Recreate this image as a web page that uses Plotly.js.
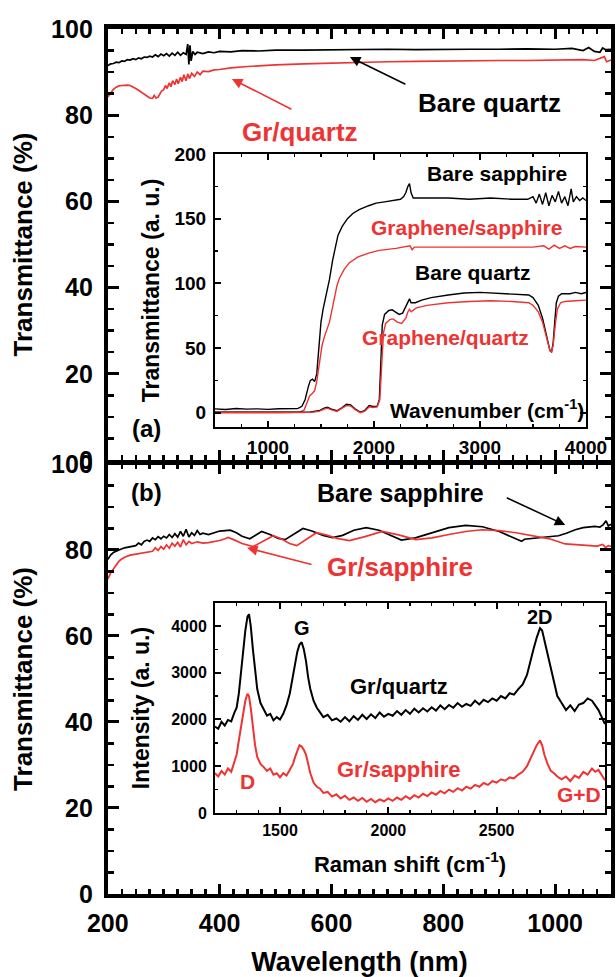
<!DOCTYPE html>
<html><head><meta charset="utf-8">
<script src="https://cdn.plot.ly/plotly-3.0.1.min.js"></script>
<style>html,body{margin:0;padding:0;background:#fff}#chart{width:616px;height:977px}</style>
</head><body><div id="chart"></div>
<script>
// ---------- Panel (a): quartz UV-vis transmittance ----------
const wlBareQuartz = [200,205,210,215,220,225,230,235,240,245,250,255,260,265,270,275,280,285,290,295,300,305,310,315,320,325,330,335,340,343,345,347,349,352,356,360,370,380,390,400,420,440,470,500,550,600,650,700,750,800,850,900,950,1000,1030,1050,1060,1070,1080,1085,1090,1100];
const tBareQuartz = [91.5,91.9,92.0,92.3,92.2,92.6,92.5,92.9,92.8,93.1,92.9,93.3,93.1,93.5,93.4,93.7,93.5,94.0,93.6,94.2,93.8,94.3,93.7,94.4,93.9,94.6,93.9,94.5,94.1,96.5,91.8,96.2,92.6,94.8,94.1,94.6,94.3,94.7,94.5,94.8,94.7,95.0,94.9,95.1,95.1,95.2,95.2,95.3,95.2,95.3,95.3,95.3,95.4,95.3,95.5,95.0,95.7,94.8,94.6,95.6,95.2,95.3];
const wlGrQuartz = [200,205,210,215,220,225,230,235,240,245,250,255,260,265,270,275,280,283,286,290,293,296,300,303,306,310,313,316,320,323,326,330,333,336,340,343,346,350,355,360,365,370,380,390,400,420,450,500,550,600,650,700,750,800,850,900,950,1000,1050,1070,1080,1088,1092,1100];
const tGrQuartz = [84.2,85.2,86.0,86.5,86.8,86.9,87.0,87.0,86.9,86.6,86.2,85.8,85.3,84.8,84.3,84.0,83.9,84.6,84.0,84.2,84.9,85.6,85.9,86.9,86.2,87.5,86.6,88.0,87.1,88.4,87.3,88.8,87.8,89.4,88.0,89.6,88.5,89.7,89.0,90.0,89.4,90.2,90.1,90.5,90.6,91.0,91.3,91.7,91.9,92.1,92.2,92.4,92.5,92.6,92.6,92.7,92.7,92.8,92.9,92.7,93.2,93.6,92.4,92.8];

// ---------- Panel (b): sapphire UV-vis transmittance ----------
const wlBareSapphire = [200,205,210,215,220,230,240,250,255,260,265,270,275,280,285,290,295,300,305,310,315,320,325,330,335,340,345,350,355,360,365,370,380,390,400,410,419,430,440,454,465,475,490,505,517,530,549,565,585,602,620,640,662,685,705,725,750,780,810,840,870,900,920,935,940,945,960,980,1006,1020,1036,1050,1060,1071,1080,1086,1091,1095,1100];
const tBareSapphire = [77.8,78.8,79.4,79.8,80.0,80.5,80.8,81.0,81.6,81.2,82.0,82.3,82.0,82.8,82.4,83.1,82.6,83.2,82.8,83.6,82.9,83.8,83.0,84.3,83.2,84.8,83.0,84.0,83.4,84.5,83.6,83.9,83.6,84.0,84.4,84.5,84.6,84.0,83.2,82.6,83.5,84.3,83.6,82.7,82.4,83.4,85.0,84.4,83.4,82.9,83.4,84.6,85.2,84.6,83.4,82.3,82.8,84.0,85.2,85.7,85.4,84.3,83.2,82.4,82.0,82.5,82.7,82.9,83.3,83.9,84.7,85.2,85.4,85.5,85.3,85.9,86.8,85.6,86.0];
const wlGrSapphire = [200,203,206,210,215,220,225,230,240,250,260,270,280,285,290,295,300,305,310,315,320,325,330,335,340,345,350,360,370,380,390,400,410,415,425,440,460,475,496,510,525,538,555,573,590,610,632,660,691,720,751,780,810,840,869,900,930,958,990,1018,1040,1060,1075,1085,1090,1095,1100];
const tGrSapphire = [73.2,74.2,74.9,75.6,76.6,77.4,77.9,78.3,78.8,79.0,79.3,79.4,79.7,80.5,79.9,80.8,80.2,81.2,80.4,81.6,80.9,81.8,80.7,82.4,81.2,82.0,81.5,81.9,81.6,81.7,81.9,82.2,82.6,82.9,82.4,81.5,80.8,81.8,83.3,82.6,81.5,81.0,82.5,84.0,83.5,82.7,82.2,83.1,84.3,83.5,82.4,82.8,83.6,84.3,84.7,84.5,84.0,83.4,82.6,81.4,81.2,81.1,80.9,81.3,80.6,81.0,80.8];

// ---------- Inset (a): IR transmittance vs wavenumber ----------
const wnBareSapphire = [500,600,700,800,900,1000,1100,1200,1280,1320,1350,1380,1400,1420,1440,1460,1480,1500,1520,1550,1580,1610,1640,1660,1700,1750,1800,1860,1950,2020,2100,2170,2250,2280,2300,2320,2335,2350,2370,2500,2700,2900,3100,3300,3450,3500,3530,3560,3590,3620,3650,3680,3710,3740,3770,3800,3830,3860,3880,3910,3940,3970,4000];
const irBareSapphire = [3.0,2.5,3.2,2.8,3.0,2.6,3.1,2.9,3.2,5,10,20,25,26,24,30,50,70,80,92,103,118,131,137,144,150,154,157,160,162,163,164,165,167,170,175,177,170,166,166,166,165,166,165,165,167,162,169,161,170,160,168,163,171,162,167,160,173,163,167,164,166,164];
const wnGrSapphire = [500,700,900,1100,1300,1340,1370,1392,1420,1440,1460,1486,1510,1533,1560,1580,1600,1627,1650,1674,1720,1768,1850,1956,2050,2207,2300,2340,2360,2380,2600,2900,3200,3500,3600,3650,3700,3750,3800,3850,3900,4000];
const irGrSapphire = [0.5,0.3,0.6,0.4,0.5,2,8,13,15,17,24,41,52,59,65,70,78,90,98,104,111,116,120.5,123.5,125.5,127,128,129,126,128,128,128,128,128,129,126.5,129.5,127,129,127,128.5,128];
const wnBareQuartz = [500,800,1100,1400,1480,1530,1560,1600,1650,1700,1740,1780,1820,1870,1910,1955,1990,2030,2050,2065,2078,2100,2140,2171,2200,2237,2270,2300,2320,2335,2350,2390,2450,2540,2700,2850,3000,3150,3300,3460,3500,3550,3590,3617,3640,3660,3675,3690,3705,3720,3740,3770,3850,3900,3955,4000];
const irBareQuartz = [0.5,0.3,0.5,0.6,1.5,3.5,4.2,2.8,1.5,4,6.5,6,3,0.5,1.5,5.5,4.8,5,10,40,68,76,79,79.5,78,76,77,82,86,88,85,85,87,89,91,92.5,93,92.5,92,91,89,83,73,64,55,48,47,54,70,85,90,92,92,93,92,93];
const wnGrQuartz = [500,800,1100,1400,1480,1530,1560,1600,1650,1700,1740,1780,1820,1870,1910,1955,1990,2030,2055,2075,2090,2110,2150,2180,2220,2260,2300,2320,2335,2350,2400,2500,2700,2900,3100,3300,3460,3500,3550,3590,3617,3640,3660,3675,3690,3710,3730,3760,3800,3900,4000];
const irGrQuartz = [0.0,-0.2,0.0,0.3,1,2.8,3.5,2.2,1.0,3.5,5.5,5.2,2.5,0,1,4.5,4,4.5,10,40,62,69,72,72.5,70,69,73,78,80,78,81,83,85,86,86.5,86,85,83,78,70,62,54,48,47,52,68,80,85,86,86.5,87];

// ---------- Inset (b): Raman spectra ----------
const ramanShift = [1200,1215,1230,1245,1260,1275,1290,1300,1310,1320,
  1330,1340,1350,1357,1365,1375,1385,1395,1410,1425,
  1440,1455,1470,1485,1500,1515,1530,1545,1560,1570,
  1580,1590,1600,1610,1620,1630,1640,1655,1670,1685,
  1700,1720,1740,1760,1780,1800,1820,1840,1860,1880,
  1900,1920,1940,1960,1980,2000,2020,2040,2060,2080,
  2100,2120,2140,2160,2180,2200,2220,2240,2260,2280,
  2300,2320,2340,2360,2380,2400,2420,2440,2460,2480,
  2500,2520,2540,2560,2580,2600,2620,2640,2655,2670,
  2685,2700,2710,2720,2735,2750,2765,2780,2800,2820,
  2840,2860,2880,2900,2920,2940,2955,2970,2985,3000];
const ramanGrQuartz = [1850,1800,1950,1870,1990,1960,2150,2250,2550,2950,
  3450,3900,4200,4250,4000,3500,3000,2650,2350,2200,
  2080,2120,1980,2050,2000,2120,2300,2550,2950,3250,
  3450,3600,3650,3500,3250,2900,2650,2400,2250,2150,
  2050,2100,1980,2020,1950,2050,1960,2070,1990,2100,
  2010,2110,2030,2150,2060,2120,2080,2180,2100,2200,
  2120,2230,2150,2240,2170,2260,2190,2300,2220,2310,
  2250,2350,2270,2330,2290,2400,2320,2420,2370,2450,
  2400,2500,2450,2560,2530,2650,2750,2950,3250,3500,
  3750,3950,3900,3700,3400,3050,2750,2500,2350,2200,
  2300,2180,2320,2350,2450,2400,2300,2200,2050,1900];
const ramanGrSapphire = [850,780,900,820,950,880,1100,1250,1550,1850,
  2150,2400,2550,2500,2250,1800,1450,1200,1050,980,
  900,950,820,850,760,850,800,920,1050,1200,
  1350,1450,1420,1350,1250,1050,850,650,560,520,
  430,450,350,400,310,370,280,330,260,320,
  240,300,230,290,250,310,260,330,280,360,
  300,380,330,410,360,440,390,470,420,500,
  450,530,480,560,520,600,560,640,600,680,
  650,720,690,760,740,820,880,1000,1150,1300,
  1450,1550,1450,1250,1050,900,850,780,720,780,
  680,800,750,880,820,950,880,920,800,700];

const mainTicks = [0,20,40,60,80,100];
const wlTicks = [200,400,600,800,1000];
const wnTicks = [1000,2000,3000,4000];
const irTicks = [0,50,100,150,200];
const ramanTicks = [1500,2000,2500];
const intensityTicks = [0,1000,2000,3000,4000];

const F = 'Liberation Sans, Arial, Helvetica, sans-serif';
const RED = '#ee3333';
const BLK = '#000000';
const bf = (s, c) => ({family: F, size: s, color: c || BLK, weight: 'bold'});

const traces = [
  {x: wlBareQuartz, y: tBareQuartz, xaxis: 'x', yaxis: 'y', mode: 'lines', line: {color: BLK, width: 1.7}, name: 'Bare quartz'},
  {x: wlGrQuartz, y: tGrQuartz, xaxis: 'x', yaxis: 'y', mode: 'lines', line: {color: RED, width: 1.7}, name: 'Gr/quartz'},
  {x: wlBareSapphire, y: tBareSapphire, xaxis: 'x2', yaxis: 'y2', mode: 'lines', line: {color: BLK, width: 1.7}, name: 'Bare sapphire'},
  {x: wlGrSapphire, y: tGrSapphire, xaxis: 'x2', yaxis: 'y2', mode: 'lines', line: {color: RED, width: 1.7}, name: 'Gr/sapphire'},
  {x: wnBareSapphire, y: irBareSapphire, xaxis: 'x3', yaxis: 'y3', mode: 'lines', line: {color: BLK, width: 1.4}, name: 'Bare sapphire IR'},
  {x: wnGrSapphire, y: irGrSapphire, xaxis: 'x3', yaxis: 'y3', mode: 'lines', line: {color: RED, width: 1.4}, name: 'Graphene/sapphire IR'},
  {x: wnBareQuartz, y: irBareQuartz, xaxis: 'x3', yaxis: 'y3', mode: 'lines', line: {color: BLK, width: 1.4}, name: 'Bare quartz IR'},
  {x: wnGrQuartz, y: irGrQuartz, xaxis: 'x3', yaxis: 'y3', mode: 'lines', line: {color: RED, width: 1.4}, name: 'Graphene/quartz IR'},
  {x: ramanShift, y: ramanGrQuartz, xaxis: 'x4', yaxis: 'y4', mode: 'lines', line: {color: BLK, width: 2}, name: 'Gr/quartz Raman'},
  {x: ramanShift, y: ramanGrSapphire, xaxis: 'x4', yaxis: 'y4', mode: 'lines', line: {color: RED, width: 2}, name: 'Gr/sapphire Raman'}
];

function axisBase(o) {
  return Object.assign({
    showline: true, linecolor: BLK, mirror: 'allticks', showgrid: false, zeroline: false,
    ticks: 'inside', tickcolor: BLK, tickmode: 'array', fixedrange: true
  }, o);
}

const mainX = (o) => axisBase(Object.assign({
  range: [200, 1100], tickvals: wlTicks, ticktext: wlTicks.map(String),
  linewidth: 4, ticklen: 10, tickwidth: 3, tickfont: bf(25),
  minor: {tickmode: 'linear', tick0: 200, dtick: 25, ticks: 'inside', ticklen: 5, tickwidth: 2.5, tickcolor: BLK}
}, o));
const mainY = (o) => axisBase(Object.assign({
  range: [0, 100], tickvals: mainTicks, ticktext: mainTicks.map(String),
  linewidth: 4, ticklen: 11, tickwidth: 3, tickfont: bf(25), ticklabelstandoff: 6,
  title: {text: 'Transmittance (%)', font: bf(26), standoff: 12},
  minor: {tickmode: 'linear', tick0: 0, dtick: 5, ticks: 'inside', ticklen: 6, tickwidth: 2.5, tickcolor: BLK}
}, o));

const layout = {
  width: 616, height: 977,
  margin: {l: 0, r: 0, t: 0, b: 0},
  paper_bgcolor: '#ffffff', plot_bgcolor: '#ffffff',
  showlegend: false,
  xaxis: mainX({domain: [0.175, 0.992], anchor: 'y', showticklabels: false, linewidth: 5}),
  yaxis: mainY({domain: [0.5292, 0.9703], anchor: 'x'}),
  xaxis2: mainX({domain: [0.175, 0.992], anchor: 'y2', ticklabelstandoff: 4,
    title: {text: 'Wavelength (nm)', font: bf(27), standoff: 18}}),
  yaxis2: mainY({domain: [0.0850, 0.5251], anchor: 'x2'}),
  xaxis3: axisBase({domain: [0.3490, 0.9513], anchor: 'y3', range: [500, 4000],
    tickvals: wnTicks, ticktext: wnTicks.map(String), linewidth: 2, ticklen: 6, tickwidth: 2,
    tickfont: bf(19), ticklabelstandoff: 2,
    minor: {tickmode: 'linear', tick0: 500, dtick: 250, ticks: 'inside', ticklen: 3, tickwidth: 1.5, tickcolor: BLK}}),
  yaxis3: axisBase({domain: [0.5630, 0.8424], anchor: 'x3', range: [-11, 200],
    tickvals: irTicks, ticktext: irTicks.map(String), linewidth: 2, ticklen: 6, tickwidth: 2,
    tickfont: bf(19), ticklabelstandoff: 3,
    title: {text: 'Transmittance (a. u.)', font: bf(23), standoff: 8},
    minor: {tickmode: 'linear', tick0: 0, dtick: 25, ticks: 'inside', ticklen: 3, tickwidth: 1.5, tickcolor: BLK}}),
  xaxis4: axisBase({domain: [0.3490, 0.9821], anchor: 'y4', range: [1200, 3000],
    tickvals: ramanTicks, ticktext: ramanTicks.map(String), linewidth: 2, ticklen: 6, tickwidth: 2,
    tickfont: bf(16), ticklabelstandoff: 2,
    title: {text: 'Raman shift (cm<sup>-1</sup>)', font: bf(22), standoff: 18},
    minor: {tickmode: 'linear', tick0: 1200, dtick: 100, ticks: 'inside', ticklen: 3, tickwidth: 1.5, tickcolor: BLK}}),
  yaxis4: axisBase({domain: [0.1679, 0.3828], anchor: 'x4', range: [0, 4490],
    tickvals: intensityTicks, ticktext: intensityTicks.map(String), linewidth: 2, ticklen: 6, tickwidth: 2,
    tickfont: bf(16), ticklabelstandoff: 3,
    title: {text: 'Intensity (a. u.)', font: bf(23), standoff: 15},
    minor: {tickmode: 'linear', tick0: 0, dtick: 500, ticks: 'inside', ticklen: 3, tickwidth: 1.5, tickcolor: BLK}}),
  annotations: [
    // panel (a)
    {xref: 'x', yref: 'y', x: 883, y: 82.8, text: 'Bare quartz', showarrow: false, font: bf(26)},
    {xref: 'x', yref: 'y', x: 543, y: 76.1, text: 'Gr/quartz', showarrow: false, font: bf(26, RED)},
    {xref: 'x', yref: 'y', x: 633, y: 93.5, ax: 57, ay: 28, text: '', showarrow: true, arrowhead: 2, arrowsize: 1.3, arrowwidth: 1.6, arrowcolor: BLK},
    {xref: 'x', yref: 'y', x: 422, y: 88.4, ax: 61, ay: 31, text: '', showarrow: true, arrowhead: 2, arrowsize: 1.3, arrowwidth: 1.6, arrowcolor: RED},
    {xref: 'x', yref: 'y', x: 270, y: 7.4, text: '(a)', showarrow: false, font: bf(24)},
    // panel (b)
    {xref: 'x2', yref: 'y2', x: 270, y: 93.3, text: '(b)', showarrow: false, font: bf(24)},
    {xref: 'x2', yref: 'y2', x: 724, y: 93.3, text: 'Bare sapphire', showarrow: false, font: bf(25)},
    {xref: 'x2', yref: 'y2', x: 722, y: 76, text: 'Gr/sapphire', showarrow: false, font: bf(26, RED)},
    {xref: 'x2', yref: 'y2', x: 1018, y: 85.8, ax: -60, ay: -28, text: '', showarrow: true, arrowhead: 2, arrowsize: 1.3, arrowwidth: 1.6, arrowcolor: BLK},
    {xref: 'x2', yref: 'y2', x: 449, y: 80.5, ax: 66, ay: 17, text: '', showarrow: true, arrowhead: 2, arrowsize: 1.3, arrowwidth: 1.6, arrowcolor: RED},
    // inset (a)
    {xref: 'x3', yref: 'y3', x: 3160, y: 185, text: 'Bare sapphire', showarrow: false, font: bf(21)},
    {xref: 'x3', yref: 'y3', x: 2877, y: 143, text: 'Graphene/sapphire', showarrow: false, font: bf(21, RED)},
    {xref: 'x3', yref: 'y3', x: 2934, y: 108, text: 'Bare quartz', showarrow: false, font: bf(21)},
    {xref: 'x3', yref: 'y3', x: 2670, y: 58, text: 'Graphene/quartz', showarrow: false, font: bf(21, RED)},
    {xref: 'x3', yref: 'y3', x: 3066, y: 3, text: 'Wavenumber (cm<sup>-1</sup>)', showarrow: false, font: bf(21)},
    // inset (b)
    {xref: 'x4', yref: 'y4', x: 1601, y: 3961, text: 'G', showarrow: false, font: bf(20)},
    {xref: 'x4', yref: 'y4', x: 2700, y: 4197, text: '2D', showarrow: false, font: bf(20)},
    {xref: 'x4', yref: 'y4', x: 2049, y: 2698, text: 'Gr/quartz', showarrow: false, font: bf(22)},
    {xref: 'x4', yref: 'y4', x: 2045, y: 920, text: 'Gr/sapphire', showarrow: false, font: bf(22, RED)},
    {xref: 'x4', yref: 'y4', x: 1352, y: 664, text: 'D', showarrow: false, font: bf(21, RED)},
    {xref: 'x4', yref: 'y4', x: 2880, y: 385, text: 'G+D', showarrow: false, font: bf(21, RED)}
  ]
};

Plotly.newPlot('chart', traces, layout, {displayModeBar: false, staticPlot: true});
</script>
</body></html>
